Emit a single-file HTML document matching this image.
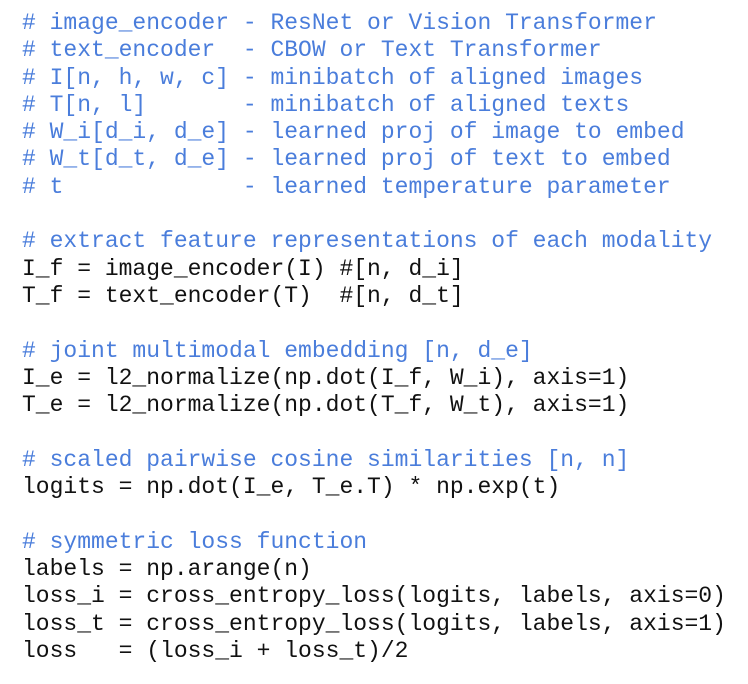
<!DOCTYPE html>
<html>
<head>
<meta charset="utf-8">
<style>
  html, body { margin:0; padding:0; background:#ffffff; }
  body { width:748px; height:684px; overflow:hidden; position:relative; }
  pre {
    position:absolute; left:22px; top:10px; margin:0;
    font-family:"Liberation Mono", monospace;
    font-size:23px; line-height:27.3px;
    color:#111111;
  }
  .c { color:#4a7ddb; }
</style>
</head>
<body>
<pre><span class="c"># image_encoder - ResNet or Vision Transformer
# text_encoder  - CBOW or Text Transformer
# I[n, h, w, c] - minibatch of aligned images
# T[n, l]       - minibatch of aligned texts
# W_i[d_i, d_e] - learned proj of image to embed
# W_t[d_t, d_e] - learned proj of text to embed
# t             - learned temperature parameter</span>

<span class="c"># extract feature representations of each modality</span>
I_f = image_encoder(I) #[n, d_i]
T_f = text_encoder(T)  #[n, d_t]

<span class="c"># joint multimodal embedding [n, d_e]</span>
I_e = l2_normalize(np.dot(I_f, W_i), axis=1)
T_e = l2_normalize(np.dot(T_f, W_t), axis=1)

<span class="c"># scaled pairwise cosine similarities [n, n]</span>
logits = np.dot(I_e, T_e.T) * np.exp(t)

<span class="c"># symmetric loss function</span>
labels = np.arange(n)
loss_i = cross_entropy_loss(logits, labels, axis=0)
loss_t = cross_entropy_loss(logits, labels, axis=1)
loss   = (loss_i + loss_t)/2</pre>
</body>
</html>
